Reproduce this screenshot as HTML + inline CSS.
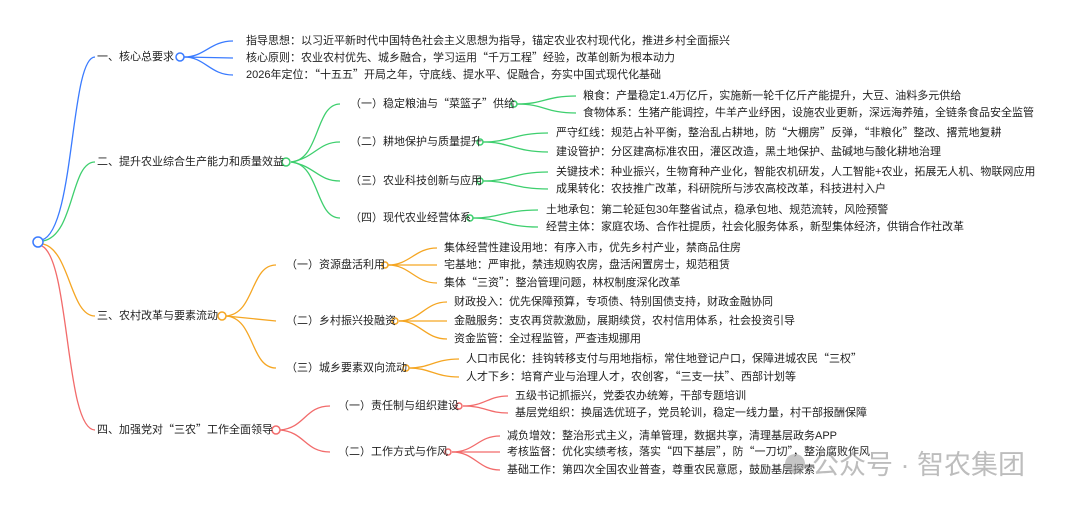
<!DOCTYPE html>
<html><head><meta charset="utf-8"><style>
html,body{margin:0;padding:0;background:#fff;width:1080px;height:510px;overflow:hidden}
svg text{font-family:"Liberation Sans","Noto Sans CJK SC",sans-serif;font-size:11px;fill:#222;dominant-baseline:middle}
.q{font-family:"Noto Sans CJK SC",sans-serif}
</style></head><body>
<svg width="1080" height="510" viewBox="0 0 1080 510" xmlns="http://www.w3.org/2000/svg">
<g fill="none" stroke-width="1.3">
<path d="M42,240 C75,230 70,57 95,57" stroke="#3a7bff"/>
<path d="M43,241 C75,235 70,162 95,162" stroke="#3ecf6e"/>
<path d="M43,244 C70,250 70,316 95,316" stroke="#f5a623"/>
<path d="M42,246 C70,260 65,430 95,430" stroke="#f26b6b"/>
<g stroke="#3a7bff">
<path d="M184,57 C205,57 210,41 233,41"/><path d="M184,57 L233,58"/><path d="M184,57 C205,57 210,75 233,75"/>
</g>
<g stroke="#3ecf6e">
<path d="M291,162 C320,160 315,104 340,104"/><path d="M291,162 C315,158 318,142 340,142"/>
<path d="M291,162 C315,166 318,181 340,181"/><path d="M291,162 C320,164 315,218 340,218"/>
<path d="M517,104 C545,104 545,96 576,96"/><path d="M517,104 C545,104 545,113 576,113"/>
<path d="M483,142 C510,142 515,133 548,133"/><path d="M483,142 C510,142 515,152 548,152"/>
<path d="M483,181 C510,181 515,172 548,172"/><path d="M483,181 C510,181 515,189 548,189"/>
<path d="M473,218 C500,218 505,210 538,210"/><path d="M473,218 C500,218 505,227 538,227"/>
</g>
<g stroke="#f5a623">
<path d="M226,316 C255,314 250,265 276,265"/><path d="M226,316 L276,321"/><path d="M226,316 C255,318 250,368 276,368"/>
<path d="M388,265 C410,265 415,248 437,248"/><path d="M388,265 L437,265"/><path d="M388,265 C410,265 415,283 437,283"/>
<path d="M399,321 C420,321 425,302 447,302"/><path d="M399,321 L447,321"/><path d="M399,321 C420,321 425,339 447,339"/>
<path d="M409,368 C430,368 435,359 459,359"/><path d="M409,368 C430,368 435,377 459,377"/>
</g>
<g stroke="#f26b6b">
<path d="M280,430 C305,428 305,406 330,406"/><path d="M280,430 C305,432 305,452 330,452"/>
<path d="M463,406 C485,406 488,396 508,396"/><path d="M463,406 C485,406 488,413 508,413"/>
<path d="M452,452 C475,452 478,436 500,436"/><path d="M452,452 L500,452"/><path d="M452,452 C475,452 478,470 500,470"/>
</g>
</g>
<g fill="#fff" stroke-width="1.5">
<circle cx="38" cy="242" r="5" stroke="#3a7bff"/>
<circle cx="180" cy="57" r="4" stroke="#3a7bff"/>
<circle cx="286" cy="162" r="4" stroke="#3ecf6e"/>
<circle cx="222" cy="316" r="4" stroke="#f5a623"/>
<circle cx="276" cy="430" r="4" stroke="#f26b6b"/>
<circle cx="514" cy="104" r="3" stroke="#3ecf6e"/>
<circle cx="480" cy="142" r="3" stroke="#3ecf6e"/>
<circle cx="480" cy="181" r="3" stroke="#3ecf6e"/>
<circle cx="470" cy="218" r="3" stroke="#3ecf6e"/>
<circle cx="385" cy="265" r="3" stroke="#f5a623"/>
<circle cx="395" cy="321" r="3" stroke="#f5a623"/>
<circle cx="406" cy="368" r="3" stroke="#f5a623"/>
<circle cx="459" cy="406" r="3" stroke="#f26b6b"/>
<circle cx="448" cy="452" r="3" stroke="#f26b6b"/>
</g>
<text x="97" y="57">一、核心总要求</text>
<text x="246" y="41">指导思想：以习近平新时代中国特色社会主义思想为指导，锚定农业农村现代化，推进乡村全面振兴</text>
<text x="246" y="58">核心原则：农业农村优先、城乡融合，学习运用<tspan class="q">“</tspan>千万工程<tspan class="q">”</tspan>经验，改革创新为根本动力</text>
<text x="246" y="75">2026年定位：<tspan class="q">“</tspan>十五五<tspan class="q">”</tspan>开局之年，守底线、提水平、促融合，夯实中国式现代化基础</text>

<text x="97" y="162">二、提升农业综合生产能力和质量效益</text>
<text x="350" y="104">（一）稳定粮油与<tspan class="q">“</tspan>菜篮子<tspan class="q">”</tspan>供给</text>
<text x="350" y="142">（二）耕地保护与质量提升</text>
<text x="350" y="181">（三）农业科技创新与应用</text>
<text x="350" y="218">（四）现代农业经营体系</text>
<text x="583" y="96">粮食：产量稳定1.4万亿斤，实施新一轮千亿斤产能提升，大豆、油料多元供给</text>
<text x="583" y="113">食物体系：生猪产能调控，牛羊产业纾困，设施农业更新，深远海养殖，全链条食品安全监管</text>
<text x="556" y="133">严守红线：规范占补平衡，整治乱占耕地，防<tspan class="q">“</tspan>大棚房<tspan class="q">”</tspan>反弹，<tspan class="q">“</tspan>非粮化<tspan class="q">”</tspan>整改、撂荒地复耕</text>
<text x="556" y="152">建设管护：分区建高标准农田，灌区改造，黑土地保护、盐碱地与酸化耕地治理</text>
<text x="556" y="172">关键技术：种业振兴，生物育种产业化，智能农机研发，人工智能+农业，拓展无人机、物联网应用</text>
<text x="556" y="189">成果转化：农技推广改革，科研院所与涉农高校改革，科技进村入户</text>
<text x="546" y="210">土地承包：第二轮延包30年整省试点，稳承包地、规范流转，风险预警</text>
<text x="546" y="227">经营主体：家庭农场、合作社提质，社会化服务体系，新型集体经济，供销合作社改革</text>

<text x="97" y="316">三、农村改革与要素流动</text>
<text x="286" y="265">（一）资源盘活利用</text>
<text x="286" y="321">（二）乡村振兴投融资</text>
<text x="286" y="368">（三）城乡要素双向流动</text>
<text x="444" y="248">集体经营性建设用地：有序入市，优先乡村产业，禁商品住房</text>
<text x="444" y="265">宅基地：严审批，禁违规购农房，盘活闲置房士，规范租赁</text>
<text x="444" y="283">集体<tspan class="q">“</tspan>三资<tspan class="q">”</tspan>：整治管理问题，林权制度深化改革</text>
<text x="454" y="302">财政投入：优先保障预算，专项债、特别国债支持，财政金融协同</text>
<text x="454" y="321">金融服务：支农再贷款激励，展期续贷，农村信用体系，社会投资引导</text>
<text x="454" y="339">资金监管：全过程监管，严查违规挪用</text>
<text x="466" y="359">人口市民化：挂钩转移支付与用地指标，常住地登记户口，保障进城农民<tspan class="q">“</tspan>三权<tspan class="q">”</tspan></text>
<text x="466" y="377">人才下乡：培育产业与治理人才，农创客，<tspan class="q">“</tspan>三支一扶<tspan class="q">”</tspan>、西部计划等</text>

<text x="97" y="430">四、加强党对<tspan class="q">“</tspan>三农<tspan class="q">”</tspan>工作全面领导</text>
<text x="338" y="406">（一）责任制与组织建设</text>
<text x="338" y="452">（二）工作方式与作风</text>
<text x="515" y="396">五级书记抓振兴，党委农办统筹，干部专题培训</text>
<text x="515" y="413">基层党组织：换届选优班子，党员轮训，稳定一线力量，村干部报酬保障</text>
<text x="507" y="436">减负增效：整治形式主义，清单管理，数据共享，清理基层政务APP</text>
<text x="507" y="452">考核监督：优化实绩考核，落实<tspan class="q">“</tspan>四下基层<tspan class="q">”</tspan>，防<tspan class="q">“</tspan>一刀切<tspan class="q">”</tspan>，整治腐败作风</text>
<text x="507" y="470">基础工作：第四次全国农业普查，尊重农民意愿，鼓励基层探索</text>
<g opacity="0.55">
<circle cx="795" cy="464" r="10" fill="#999"/>
<text x="812" y="467" style="font-size:27px;fill:#888">公众号 · 智农集团</text>
</g>
</svg>
</body></html>
